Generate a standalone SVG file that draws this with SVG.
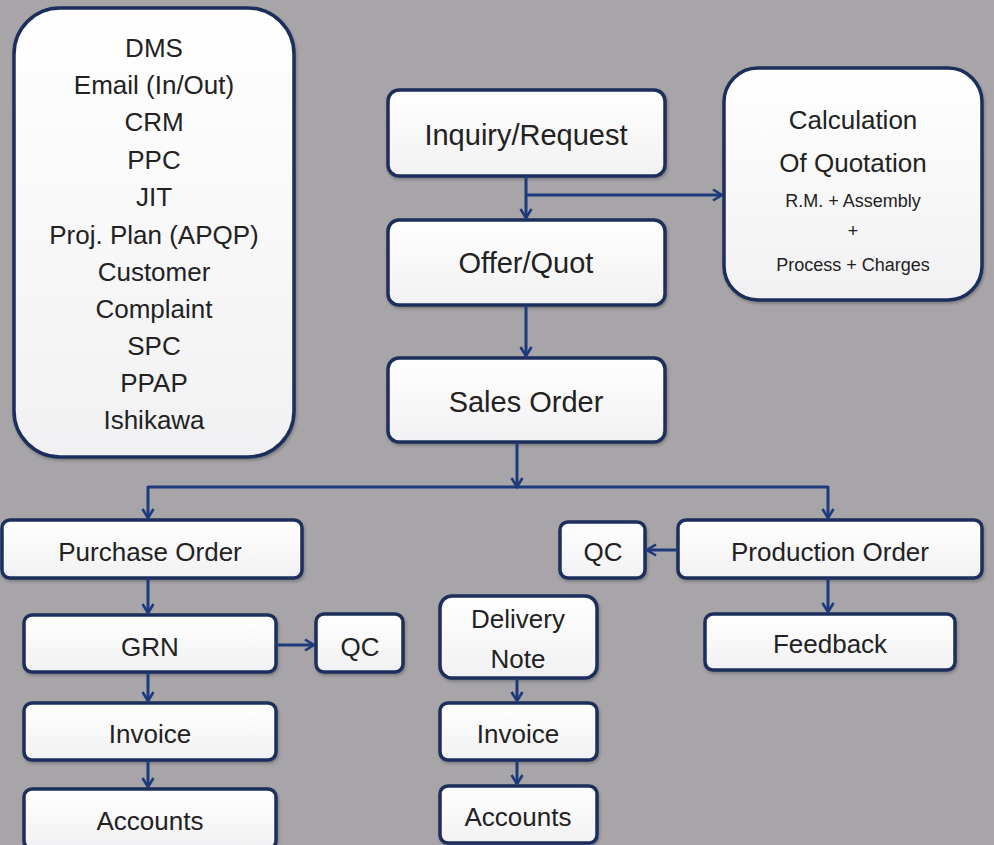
<svg xmlns="http://www.w3.org/2000/svg" width="994" height="845" viewBox="0 0 994 845">
<defs>
<marker id="arr" viewBox="0 0 12 14" refX="10.5" refY="7" markerWidth="12" markerHeight="14" markerUnits="userSpaceOnUse" orient="auto">
<path d="M1.5,1.5 L10.5,7 L1.5,12.5" fill="none" stroke="#1d3a7c" stroke-width="2.6" stroke-linejoin="miter"/>
</marker>
<linearGradient id="g" x1="0" y1="0" x2="0" y2="1">
<stop offset="0" stop-color="#ffffff"/>
<stop offset="1" stop-color="#f1f1f3"/>
</linearGradient>
<filter id="sh" x="-10%" y="-10%" width="120%" height="130%">
<feDropShadow dx="1" dy="2" stdDeviation="1.5" flood-color="#000" flood-opacity="0.25"/>
</filter>
</defs>
<style>
.bg{fill:#a7a5a8}
.box{fill:url(#g);stroke:#1c2f5c;stroke-width:3.5;filter:url(#sh)}
.t{font-family:"Liberation Sans",Arial,sans-serif;fill:#222;text-anchor:middle}
.big{font-size:29px}
.mid{font-size:26px}
.sm{font-size:18px}
.c{fill:none;stroke:#1d3a7c;stroke-width:3;marker-end:url(#arr)}
.l{fill:none;stroke:#1d3a7c;stroke-width:3}
</style>
<rect class="bg" width="994" height="845"/>

<g id="tools">
<rect class="box" x="14" y="8" width="280" height="449" rx="46"/>
<text class="t mid" x="154" y="57">DMS</text>
<text class="t mid" x="154" y="94">Email (In/Out)</text>
<text class="t mid" x="154" y="131">CRM</text>
<text class="t mid" x="154" y="169">PPC</text>
<text class="t mid" x="154" y="206">JIT</text>
<text class="t mid" x="154" y="244">Proj. Plan (APQP)</text>
<text class="t mid" x="154" y="281">Customer</text>
<text class="t mid" x="154" y="318">Complaint</text>
<text class="t mid" x="154" y="355">SPC</text>
<text class="t mid" x="154" y="392">PPAP</text>
<text class="t mid" x="154" y="429">Ishikawa</text>
</g>

<g id="inquiry">
<rect class="box" x="388" y="90" width="277" height="86" rx="11"/>
<text class="t big" x="526" y="145">Inquiry/Request</text>
</g>
<g id="calculation">
<rect class="box" x="724" y="68" width="258" height="232" rx="34"/>
<text class="t mid" x="853" y="129">Calculation</text>
<text class="t mid" x="853" y="172">Of Quotation</text>
<text class="t sm" x="853" y="207">R.M. + Assembly</text>
<text class="t sm" x="853" y="237">+</text>
<text class="t sm" x="853" y="271">Process + Charges</text>
</g>
<g id="offer">
<rect class="box" x="388" y="220" width="277" height="85" rx="11"/>
<text class="t big" x="526" y="273">Offer/Quot</text>
</g>
<g id="sales">
<rect class="box" x="388" y="358" width="277" height="84" rx="11"/>
<text class="t big" x="526" y="412">Sales Order</text>
</g>

<g id="purchase">
<rect class="box" x="2" y="520" width="300" height="58" rx="8"/>
<text class="t mid" x="150" y="561">Purchase Order</text>
</g>
<g id="grn">
<rect class="box" x="24" y="615" width="252" height="57" rx="8"/>
<text class="t mid" x="150" y="656">GRN</text>
</g>
<g id="qc1">
<rect class="box" x="316" y="614" width="87" height="58" rx="8"/>
<text class="t mid" x="360" y="656">QC</text>
</g>
<g id="invoice1">
<rect class="box" x="24" y="703" width="252" height="57" rx="8"/>
<text class="t mid" x="150" y="743">Invoice</text>
</g>
<g id="accounts1">
<rect class="box" x="24" y="789" width="252" height="60" rx="8"/>
<text class="t mid" x="150" y="830">Accounts</text>
</g>

<g id="qc2">
<rect class="box" x="560" y="522" width="85" height="56" rx="8"/>
<text class="t mid" x="603" y="561">QC</text>
</g>
<g id="production">
<rect class="box" x="678" y="520" width="304" height="58" rx="8"/>
<text class="t mid" x="830" y="561">Production Order</text>
</g>
<g id="feedback">
<rect class="box" x="705" y="614" width="250" height="56" rx="8"/>
<text class="t mid" x="830" y="653">Feedback</text>
</g>
<g id="delivery">
<rect class="box" x="440" y="596" width="157" height="82" rx="12"/>
<text class="t mid" x="518" y="628">Delivery</text>
<text class="t mid" x="518" y="668">Note</text>
</g>
<g id="invoice2">
<rect class="box" x="440" y="703" width="157" height="57" rx="8"/>
<text class="t mid" x="518" y="743">Invoice</text>
</g>
<g id="accounts2">
<rect class="box" x="440" y="786" width="157" height="57" rx="8"/>
<text class="t mid" x="518" y="826">Accounts</text>
</g>

<g id="connectors">
<path class="c" d="M526,176 V218"/>
<path class="c" d="M526,195 H722"/>
<path class="c" d="M526,305 V356"/>
<path class="c" d="M517,442 V487"/>
<path class="l" d="M148,487 H828"/>
<path class="c" d="M148,486 V518"/>
<path class="c" d="M828,486 V518"/>
<path class="c" d="M148,578 V613"/>
<path class="c" d="M276,645 H314"/>
<path class="c" d="M148,672 V701"/>
<path class="c" d="M148,760 V787"/>
<path class="c" d="M678,550 H647"/>
<path class="c" d="M828,578 V612"/>
<path class="c" d="M517,678 V701"/>
<path class="c" d="M517,760 V784"/>
</g>
</svg>
